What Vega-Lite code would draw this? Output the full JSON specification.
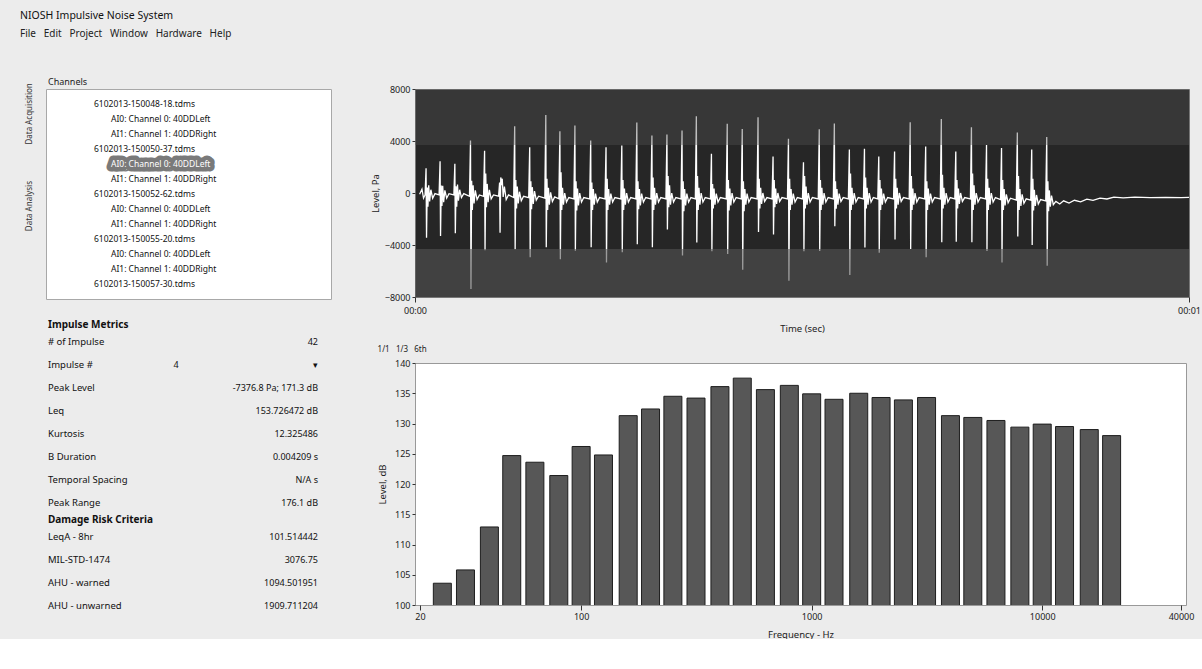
{
"$schema":"https://vega.github.io/schema/vega-lite/v6.json",
"background":"#ececec",
"padding":{"left":20,"top":11,"right":0,"bottom":0},
"title":{"text":"NIOSH Impulsive Noise System","subtitle":"File\u00a0\u00a0\u00a0Edit\u00a0\u00a0\u00a0Project\u00a0\u00a0\u00a0Window\u00a0\u00a0\u00a0Hardware\u00a0\u00a0\u00a0Help","anchor":"start","frame":"bounds","fontSize":10.5,"fontWeight":"normal","subtitleFontSize":10,"subtitlePadding":7,"offset":39,"color":"#111","subtitleColor":"#222"},
"config":{"font":"Noto Sans","view":{"stroke":null},"axis":{"labelFontSize":9,"titleFontSize":9.5,"titleFontWeight":"normal","grid":false,"domain":false,"tickColor":"#333","labelColor":"#222","titleColor":"#222","labelFlush":false,"tickSize":3,"labelPadding":2}},
"datasets":{
"tabs":[{"tab":"Data Acquisition"},{"tab":"Data Analysis"}],
"tree":[
{"row":1,"depth":0,"item":"6102013-150048-18.tdms","sel":false},
{"row":2,"depth":1,"item":"AI0: Channel 0: 40DDLeft","sel":false},
{"row":3,"depth":1,"item":"AI1: Channel 1: 40DDRight","sel":false},
{"row":4,"depth":0,"item":"6102013-150050-37.tdms","sel":false},
{"row":5,"depth":1,"item":"AI0: Channel 0: 40DDLeft","sel":true},
{"row":6,"depth":1,"item":"AI1: Channel 1: 40DDRight","sel":false},
{"row":7,"depth":0,"item":"6102013-150052-62.tdms","sel":false},
{"row":8,"depth":1,"item":"AI0: Channel 0: 40DDLeft","sel":false},
{"row":9,"depth":1,"item":"AI1: Channel 1: 40DDRight","sel":false},
{"row":10,"depth":0,"item":"6102013-150055-20.tdms","sel":false},
{"row":11,"depth":1,"item":"AI0: Channel 0: 40DDLeft","sel":false},
{"row":12,"depth":1,"item":"AI1: Channel 1: 40DDRight","sel":false},
{"row":13,"depth":0,"item":"6102013-150057-30.tdms","sel":false}],
"metrics":[
{"label":"# of Impulse","choice":"","value":"42"},
{"label":"Impulse #","choice":"4","value":"▾"},
{"label":"Peak Level","choice":"","value":"-7376.8 Pa; 171.3 dB"},
{"label":"Leq","choice":"","value":"153.726472 dB"},
{"label":"Kurtosis","choice":"","value":"12.325486"},
{"label":"B Duration","choice":"","value":"0.004209 s"},
{"label":"Temporal Spacing","choice":"","value":"N/A s"},
{"label":"Peak Range","choice":"","value":"176.1 dB"}],
"drc":[
{"label":"LeqA - 8hr","value":"101.514442"},
{"label":"MIL-STD-1474","value":"3076.75"},
{"label":"AHU - warned","value":"1094.501951"},
{"label":"AHU - unwarned","value":"1909.711204"}],
"bands":[{"zone":"top","lo":3700,"hi":8000},{"zone":"bottom","lo":-8000,"hi":-4300}],
"octave":[
{"hz":25,"db":103.6},{"hz":31.5,"db":105.8},{"hz":40,"db":112.9},{"hz":50,"db":124.7},{"hz":63,"db":123.6},{"hz":80,"db":121.4},{"hz":100,"db":126.2},{"hz":125,"db":124.8},{"hz":160,"db":131.3},{"hz":200,"db":132.4},{"hz":250,"db":134.5},{"hz":315,"db":134.2},{"hz":400,"db":136.1},{"hz":500,"db":137.5},{"hz":630,"db":135.6},{"hz":800,"db":136.3},{"hz":1000,"db":134.9},{"hz":1250,"db":134.0},{"hz":1600,"db":135.0},{"hz":2000,"db":134.3},{"hz":2500,"db":133.9},{"hz":3150,"db":134.3},{"hz":4000,"db":131.3},{"hz":5000,"db":131.0},{"hz":6300,"db":130.5},{"hz":8000,"db":129.4},{"hz":10000,"db":129.9},{"hz":12500,"db":129.5},{"hz":16000,"db":129.0},{"hz":20000,"db":128.0}],
"wave":[
{"ms":6,"pa":-100},{"ms":9,"pa":300},{"ms":11,"pa":-400},
{"ms":13.0,"pa":-150},{"ms":14.3,"pa":1900},{"ms":14.9,"pa":-3450},{"ms":15.8,"pa":420},{"ms":16.7,"pa":-1050},{"ms":17.7,"pa":600},{"ms":18.9,"pa":-650},{"ms":20.5,"pa":250},{"ms":22.8,"pa":-400},{"ms":25.8,"pa":-50},
{"ms":31.1,"pa":-150},{"ms":32.4,"pa":2450},{"ms":33.0,"pa":-3300},{"ms":33.9,"pa":580},{"ms":34.8,"pa":-1000},{"ms":35.8,"pa":550},{"ms":37.0,"pa":-700},{"ms":38.6,"pa":200},{"ms":40.9,"pa":-400},{"ms":43.9,"pa":-50},
{"ms":50.2,"pa":-150},{"ms":51.5,"pa":2250},{"ms":52.1,"pa":-3100},{"ms":53.0,"pa":520},{"ms":53.9,"pa":-1050},{"ms":54.9,"pa":650},{"ms":56.1,"pa":-600},{"ms":57.7,"pa":250},{"ms":60.0,"pa":-350},{"ms":63.0,"pa":-50},
{"ms":70.4,"pa":-250},{"ms":71.7,"pa":4030},{"ms":72.3,"pa":-7380},{"ms":73.2,"pa":950},{"ms":74.1,"pa":-1300},{"ms":75.1,"pa":600},{"ms":76.3,"pa":-800},{"ms":77.9,"pa":200},{"ms":80.2,"pa":-500},{"ms":83.2,"pa":-150},
{"ms":88.6,"pa":-250},{"ms":89.9,"pa":3250},{"ms":90.5,"pa":-4400},{"ms":91.4,"pa":1500},{"ms":92.3,"pa":-1100},{"ms":93.3,"pa":700},{"ms":94.5,"pa":-700},{"ms":96.1,"pa":250},{"ms":98.4,"pa":-450},{"ms":101.4,"pa":-150},
{"ms":108.0,"pa":-250},{"ms":109.3,"pa":800},{"ms":109.9,"pa":-3060},{"ms":110.8,"pa":1200},{"ms":111.7,"pa":600},{"ms":112.7,"pa":1100},{"ms":113.9,"pa":-300},{"ms":115.5,"pa":500},{"ms":117.8,"pa":-500},{"ms":120.8,"pa":-150},
{"ms":127.5,"pa":-350},{"ms":128.8,"pa":5130},{"ms":129.4,"pa":-4320},{"ms":130.3,"pa":1000},{"ms":131.2,"pa":-1200},{"ms":132.2,"pa":500},{"ms":133.4,"pa":-800},{"ms":135.0,"pa":100},{"ms":137.3,"pa":-600},{"ms":140.3,"pa":-250},
{"ms":146.9,"pa":-350},{"ms":148.2,"pa":3510},{"ms":148.8,"pa":-4950},{"ms":149.7,"pa":900},{"ms":150.6,"pa":-1250},{"ms":151.6,"pa":450},{"ms":152.8,"pa":-850},{"ms":154.4,"pa":150},{"ms":156.7,"pa":-550},{"ms":159.7,"pa":-250},
{"ms":167.7,"pa":-400},{"ms":169.0,"pa":6000},{"ms":169.6,"pa":-4170},{"ms":170.5,"pa":1100},{"ms":171.4,"pa":-1300},{"ms":172.4,"pa":400},{"ms":173.6,"pa":-900},{"ms":175.2,"pa":50},{"ms":177.5,"pa":-650},{"ms":180.5,"pa":-300},
{"ms":185.9,"pa":-450},{"ms":187.2,"pa":4750},{"ms":187.8,"pa":-5100},{"ms":188.7,"pa":1600},{"ms":189.6,"pa":-1300},{"ms":190.6,"pa":400},{"ms":191.8,"pa":-900},{"ms":193.4,"pa":0},{"ms":195.7,"pa":-700},{"ms":198.7,"pa":-350},
{"ms":205.3,"pa":-450},{"ms":206.6,"pa":5200},{"ms":207.2,"pa":-4450},{"ms":208.1,"pa":900},{"ms":209.0,"pa":-1350},{"ms":210.0,"pa":350},{"ms":211.2,"pa":-950},{"ms":212.8,"pa":0},{"ms":215.1,"pa":-700},{"ms":218.1,"pa":-350},
{"ms":225.7,"pa":-450},{"ms":227.0,"pa":4040},{"ms":227.6,"pa":-4170},{"ms":228.5,"pa":800},{"ms":229.4,"pa":-1300},{"ms":230.4,"pa":300},{"ms":231.6,"pa":-900},{"ms":233.2,"pa":-50},{"ms":235.5,"pa":-700},{"ms":238.5,"pa":-350},
{"ms":245.5,"pa":-450},{"ms":246.8,"pa":3510},{"ms":247.4,"pa":-5350},{"ms":248.3,"pa":1100},{"ms":249.2,"pa":-1300},{"ms":250.2,"pa":300},{"ms":251.4,"pa":-900},{"ms":253.0,"pa":-50},{"ms":255.3,"pa":-700},{"ms":258.3,"pa":-350},
{"ms":265.9,"pa":-450},{"ms":267.2,"pa":3650},{"ms":267.8,"pa":-4550},{"ms":268.7,"pa":1000},{"ms":269.6,"pa":-1300},{"ms":270.6,"pa":350},{"ms":271.8,"pa":-900},{"ms":273.4,"pa":0},{"ms":275.7,"pa":-700},{"ms":278.7,"pa":-350},
{"ms":285.3,"pa":-450},{"ms":286.6,"pa":5420},{"ms":287.2,"pa":-3950},{"ms":288.1,"pa":900},{"ms":289.0,"pa":-1250},{"ms":290.0,"pa":300},{"ms":291.2,"pa":-950},{"ms":292.8,"pa":-50},{"ms":295.1,"pa":-700},{"ms":298.1,"pa":-350},
{"ms":304.8,"pa":-450},{"ms":306.1,"pa":4420},{"ms":306.7,"pa":-4170},{"ms":307.6,"pa":1200},{"ms":308.5,"pa":-1300},{"ms":309.5,"pa":400},{"ms":310.7,"pa":-900},{"ms":312.3,"pa":0},{"ms":314.6,"pa":-700},{"ms":317.6,"pa":-350},
{"ms":324.2,"pa":-450},{"ms":325.5,"pa":4500},{"ms":326.1,"pa":-2800},{"ms":327.0,"pa":1300},{"ms":327.9,"pa":-1100},{"ms":328.9,"pa":600},{"ms":330.1,"pa":-900},{"ms":331.7,"pa":0},{"ms":334.0,"pa":-700},{"ms":337.0,"pa":-350},
{"ms":343.7,"pa":-450},{"ms":345.0,"pa":4800},{"ms":345.6,"pa":-4800},{"ms":346.5,"pa":900},{"ms":347.4,"pa":-1400},{"ms":348.4,"pa":300},{"ms":349.6,"pa":-950},{"ms":351.2,"pa":-50},{"ms":353.5,"pa":-700},{"ms":356.5,"pa":-350},
{"ms":362.2,"pa":-450},{"ms":363.5,"pa":5900},{"ms":364.1,"pa":-3800},{"ms":365.0,"pa":1300},{"ms":365.9,"pa":-1300},{"ms":366.9,"pa":400},{"ms":368.1,"pa":-900},{"ms":369.7,"pa":0},{"ms":372.0,"pa":-700},{"ms":375.0,"pa":-350},
{"ms":381.7,"pa":-450},{"ms":383.0,"pa":3020},{"ms":383.6,"pa":-4480},{"ms":384.5,"pa":700},{"ms":385.4,"pa":-1200},{"ms":386.4,"pa":350},{"ms":387.6,"pa":-900},{"ms":389.2,"pa":-50},{"ms":391.5,"pa":-700},{"ms":394.5,"pa":-350},
{"ms":402.1,"pa":-450},{"ms":403.4,"pa":5330},{"ms":404.0,"pa":-4700},{"ms":404.9,"pa":1000},{"ms":405.8,"pa":-1350},{"ms":406.8,"pa":350},{"ms":408.0,"pa":-950},{"ms":409.6,"pa":0},{"ms":411.9,"pa":-700},{"ms":414.9,"pa":-350},
{"ms":421.5,"pa":-450},{"ms":422.8,"pa":4930},{"ms":423.4,"pa":-5900},{"ms":424.3,"pa":900},{"ms":425.2,"pa":-1400},{"ms":426.2,"pa":300},{"ms":427.4,"pa":-900},{"ms":429.0,"pa":-50},{"ms":431.3,"pa":-700},{"ms":434.3,"pa":-350},
{"ms":441.9,"pa":-450},{"ms":443.2,"pa":5830},{"ms":443.8,"pa":-3000},{"ms":444.7,"pa":1100},{"ms":445.6,"pa":-1200},{"ms":446.6,"pa":400},{"ms":447.8,"pa":-850},{"ms":449.4,"pa":0},{"ms":451.7,"pa":-650},{"ms":454.7,"pa":-350},
{"ms":461.3,"pa":-450},{"ms":462.6,"pa":2800},{"ms":463.2,"pa":-3200},{"ms":464.1,"pa":1000},{"ms":465.0,"pa":-1100},{"ms":466.0,"pa":350},{"ms":467.2,"pa":-850},{"ms":468.8,"pa":0},{"ms":471.1,"pa":-650},{"ms":474.1,"pa":-350},
{"ms":481.2,"pa":-450},{"ms":482.5,"pa":4170},{"ms":483.1,"pa":-6750},{"ms":484.0,"pa":1100},{"ms":484.9,"pa":-1300},{"ms":485.9,"pa":300},{"ms":487.1,"pa":-900},{"ms":488.7,"pa":-50},{"ms":491.0,"pa":-700},{"ms":494.0,"pa":-350},
{"ms":500.6,"pa":-450},{"ms":501.9,"pa":2370},{"ms":502.5,"pa":-4480},{"ms":503.4,"pa":1300},{"ms":504.3,"pa":-1200},{"ms":505.3,"pa":500},{"ms":506.5,"pa":-900},{"ms":508.1,"pa":0},{"ms":510.4,"pa":-700},{"ms":513.4,"pa":-350},
{"ms":521.0,"pa":-450},{"ms":522.3,"pa":4900},{"ms":522.9,"pa":-4460},{"ms":523.8,"pa":1000},{"ms":524.7,"pa":-1300},{"ms":525.7,"pa":400},{"ms":526.9,"pa":-900},{"ms":528.5,"pa":0},{"ms":530.8,"pa":-700},{"ms":533.8,"pa":-350},
{"ms":540.5,"pa":-450},{"ms":541.8,"pa":5350},{"ms":542.4,"pa":-2560},{"ms":543.3,"pa":900},{"ms":544.2,"pa":-1200},{"ms":545.2,"pa":300},{"ms":546.4,"pa":-900},{"ms":548.0,"pa":-50},{"ms":550.3,"pa":-650},{"ms":553.3,"pa":-350},
{"ms":559.9,"pa":-450},{"ms":561.2,"pa":3340},{"ms":561.8,"pa":-6300},{"ms":562.7,"pa":1500},{"ms":563.6,"pa":-1300},{"ms":564.6,"pa":400},{"ms":565.8,"pa":-900},{"ms":567.4,"pa":0},{"ms":569.7,"pa":-700},{"ms":572.7,"pa":-350},
{"ms":579.4,"pa":-450},{"ms":580.7,"pa":3400},{"ms":581.3,"pa":-4200},{"ms":582.2,"pa":1200},{"ms":583.1,"pa":-1200},{"ms":584.1,"pa":400},{"ms":585.3,"pa":-900},{"ms":586.9,"pa":0},{"ms":589.2,"pa":-700},{"ms":592.2,"pa":-350},
{"ms":597.9,"pa":-450},{"ms":599.2,"pa":2800},{"ms":599.8,"pa":-4600},{"ms":600.7,"pa":1000},{"ms":601.6,"pa":-1300},{"ms":602.6,"pa":350},{"ms":603.8,"pa":-900},{"ms":605.4,"pa":-50},{"ms":607.7,"pa":-700},{"ms":610.7,"pa":-350},
{"ms":618.3,"pa":-450},{"ms":619.6,"pa":3200},{"ms":620.2,"pa":-3570},{"ms":621.1,"pa":1100},{"ms":622.0,"pa":-1200},{"ms":623.0,"pa":400},{"ms":624.2,"pa":-900},{"ms":625.8,"pa":0},{"ms":628.1,"pa":-650},{"ms":631.1,"pa":-350},
{"ms":638.5,"pa":-450},{"ms":639.8,"pa":5450},{"ms":640.4,"pa":-4300},{"ms":641.3,"pa":1300},{"ms":642.2,"pa":-1300},{"ms":643.2,"pa":350},{"ms":644.4,"pa":-900},{"ms":646.0,"pa":0},{"ms":648.3,"pa":-700},{"ms":651.3,"pa":-350},
{"ms":658.5,"pa":-450},{"ms":659.8,"pa":3580},{"ms":660.4,"pa":-4950},{"ms":661.3,"pa":900},{"ms":662.2,"pa":-1300},{"ms":663.2,"pa":350},{"ms":664.4,"pa":-900},{"ms":666.0,"pa":-50},{"ms":668.3,"pa":-700},{"ms":671.3,"pa":-350},
{"ms":678.7,"pa":-450},{"ms":680.0,"pa":5700},{"ms":680.6,"pa":-3780},{"ms":681.5,"pa":1400},{"ms":682.4,"pa":-1200},{"ms":683.4,"pa":400},{"ms":684.6,"pa":-900},{"ms":686.2,"pa":0},{"ms":688.5,"pa":-700},{"ms":691.5,"pa":-350},
{"ms":697.4,"pa":-450},{"ms":698.7,"pa":3200},{"ms":699.3,"pa":-3750},{"ms":700.2,"pa":1000},{"ms":701.1,"pa":-1200},{"ms":702.1,"pa":350},{"ms":703.3,"pa":-850},{"ms":704.9,"pa":0},{"ms":707.2,"pa":-650},{"ms":710.2,"pa":-350},
{"ms":717.6,"pa":-450},{"ms":718.9,"pa":5060},{"ms":719.5,"pa":-3780},{"ms":720.4,"pa":1500},{"ms":721.3,"pa":-1300},{"ms":722.3,"pa":600},{"ms":723.5,"pa":-900},{"ms":725.1,"pa":0},{"ms":727.4,"pa":-700},{"ms":730.4,"pa":-350},
{"ms":737.1,"pa":-450},{"ms":738.4,"pa":3700},{"ms":739.0,"pa":-4460},{"ms":739.9,"pa":1100},{"ms":740.8,"pa":-1300},{"ms":741.8,"pa":400},{"ms":743.0,"pa":-900},{"ms":744.6,"pa":0},{"ms":746.9,"pa":-700},{"ms":749.9,"pa":-350},
{"ms":756.5,"pa":-500},{"ms":757.8,"pa":3460},{"ms":758.4,"pa":-5340},{"ms":759.3,"pa":1000},{"ms":760.2,"pa":-1300},{"ms":761.2,"pa":300},{"ms":762.4,"pa":-950},{"ms":764.0,"pa":-100},{"ms":766.3,"pa":-750},{"ms":769.3,"pa":-400},
{"ms":776.9,"pa":-550},{"ms":778.2,"pa":4660},{"ms":778.8,"pa":-3340},{"ms":779.7,"pa":1300},{"ms":780.6,"pa":-1300},{"ms":781.6,"pa":300},{"ms":782.8,"pa":-1000},{"ms":784.4,"pa":-100},{"ms":786.7,"pa":-800},{"ms":789.7,"pa":-450},
{"ms":795.5,"pa":-550},{"ms":796.8,"pa":3340},{"ms":797.4,"pa":-4000},{"ms":798.3,"pa":1100},{"ms":799.2,"pa":-1350},{"ms":800.2,"pa":250},{"ms":801.4,"pa":-1000},{"ms":803.0,"pa":-150},{"ms":805.3,"pa":-850},{"ms":808.3,"pa":-500},
{"ms":814.9,"pa":-600},{"ms":816.2,"pa":4300},{"ms":816.8,"pa":-5600},{"ms":817.7,"pa":900},{"ms":818.6,"pa":-1400},{"ms":819.6,"pa":200},{"ms":820.8,"pa":-1050},{"ms":822.4,"pa":-200},{"ms":824.7,"pa":-900},
{"ms":828,"pa":-650},{"ms":833,"pa":-850},{"ms":838,"pa":-600},{"ms":845,"pa":-780},{"ms":852,"pa":-560},{"ms":860,"pa":-680},{"ms":868,"pa":-470},{"ms":876,"pa":-560},{"ms":885,"pa":-400},{"ms":894,"pa":-460},{"ms":903,"pa":-320},{"ms":915,"pa":-370},{"ms":930,"pa":-320},{"ms":950,"pa":-360},{"ms":970,"pa":-330},{"ms":990,"pa":-350},{"ms":1000,"pa":-340}]
},
"hconcat":[
{"hconcat":[
  {"width":20,"height":142,"data":{"name":"tabs"},
   "mark":{"type":"text","angle":270,"fontSize":8,"color":"#333"},
   "encoding":{"y":{"field":"tab","type":"nominal","sort":null,"scale":{"type":"point","padding":0.27},"axis":null},"text":{"field":"tab"}}},
  {"vconcat":[
    {"width":285,"height":210,
     "title":{"text":"Channels","anchor":"start","fontSize":9,"fontWeight":"normal","offset":2,"dx":2,"color":"#222"},
     "view":{"fill":"white","stroke":"#a8a8a8"},
     "data":{"name":"tree"},
     "encoding":{"x":{"field":"depth","type":"quantitative","scale":{"domain":[-2.82,13.94]},"axis":null},
                 "y":{"field":"row","type":"ordinal","scale":{"type":"point","padding":1.33},"axis":null},
                 "text":{"field":"item"}},
     "layer":[
      {"transform":[{"filter":"datum.sel"}],
       "mark":{"type":"text","align":"left","fontSize":8.5,"color":"#7a7a7a","stroke":"#7a7a7a","strokeWidth":9,"strokeJoin":"round"}},
      {"mark":{"type":"text","align":"left","fontSize":8.5},
       "encoding":{"color":{"condition":{"test":"datum.sel","value":"#ffffff"},"value":"#111111"}}}
     ]},
    {"vconcat":[
      {"width":285,"height":184,
       "title":{"text":"Impulse Metrics","anchor":"start","fontSize":10,"fontWeight":"bold","offset":0,"dx":2,"color":"#111"},
       "data":{"name":"metrics"},
       "transform":[{"fold":["label","choice","value"],"as":["col","txt"]}],
       "encoding":{"x":{"field":"col","type":"nominal","scale":{"type":"point","padding":0,"domain":["label","choice","value"]},"axis":null},
                   "y":{"field":"label","type":"nominal","sort":null,"scale":{"type":"point","padding":0.5},"axis":null},
                   "text":{"field":"txt"}},
       "layer":[
        {"transform":[{"filter":"datum.col == 'label'"}],"mark":{"type":"text","align":"left","fontSize":9.5,"dx":2,"color":"#111"}},
        {"transform":[{"filter":"datum.col == 'choice'"}],"mark":{"type":"text","align":"left","fontSize":9,"dx":-15,"color":"#111"}},
        {"transform":[{"filter":"datum.col == 'value'"}],"mark":{"type":"text","align":"right","fontSize":9,"dx":-13,"color":"#111"}}
       ]},
      {"width":285,"height":92,
       "title":{"text":"Damage Risk Criteria","anchor":"start","fontSize":10,"fontWeight":"bold","offset":0,"dx":2,"color":"#111"},
       "data":{"name":"drc"},
       "transform":[{"fold":["label","value"],"as":["col","txt"]}],
       "encoding":{"x":{"field":"col","type":"nominal","scale":{"type":"point","padding":0,"domain":["label","value"]},"axis":null},
                   "y":{"field":"label","type":"nominal","sort":null,"scale":{"type":"point","padding":0.5},"axis":null},
                   "text":{"field":"txt"}},
       "layer":[
        {"transform":[{"filter":"datum.col == 'label'"}],"mark":{"type":"text","align":"left","fontSize":9.5,"dx":2,"color":"#111"}},
        {"transform":[{"filter":"datum.col == 'value'"}],"mark":{"type":"text","align":"right","fontSize":9,"dx":-13,"color":"#111"}}
       ]}
    ],"spacing":1}
  ],"spacing":20}
],"spacing":5},
{"vconcat":[
  {"width":774,"height":208,
   "view":{"fill":"#262626","stroke":"#777"},
   "layer":[
    {"data":{"name":"wave"},
     "mark":{"type":"line","color":"#ffffff","strokeWidth":1.3},
     "encoding":{"x":{"field":"ms","type":"quantitative","scale":{"domain":[0,1000]},
                      "axis":{"values":[0,1000],"labelExpr":"datum.value == 0 ? '00:00' : '00:01'","title":"Time (sec)","tickSize":5,"labelPadding":4,"titlePadding":8}},
                 "y":{"field":"pa","type":"quantitative","scale":{"domain":[-8000,8000]},
                      "axis":{"values":[-8000,-6000,-4000,-2000,0,2000,4000,6000,8000],"format":"d","title":"Level, Pa","titlePadding":4}}}},
    {"data":{"name":"bands"},
     "mark":{"type":"rect","color":"#555555"},
     "encoding":{"y":{"field":"lo","type":"quantitative"},"y2":{"field":"hi"},
                 "opacity":{"condition":{"test":"datum.zone == 'bottom'","value":0.58},"value":0.38}}}
   ]},
  {"width":771,"height":242,
   "title":{"text":"1/1\u00a0\u00a0\u00a01/3\u00a0\u00a0\u00a06th","anchor":"start","fontSize":8,"fontWeight":"normal","offset":5,"color":"#222"},
   "view":{"fill":"white","stroke":"#999"},
   "data":{"name":"octave"},
   "mark":{"type":"bar","size":18,"color":"#575757","stroke":"#1e1e1e","strokeWidth":1,"clip":true},
   "encoding":{"x":{"field":"hz","type":"quantitative","scale":{"type":"log","domain":[20,40000]},
                    "axis":{"values":[20,100,1000,10000,40000],"format":"d","title":"Frequency - Hz","tickSize":5,"labelPadding":2,"titlePadding":8}},
               "y":{"field":"db","type":"quantitative","scale":{"domain":[100,140],"zero":false},
                    "axis":{"values":[100,105,110,115,120,125,130,135,140],"title":"Level, dB","titlePadding":7}}}}
],"spacing":12}
],
"spacing":37
}
